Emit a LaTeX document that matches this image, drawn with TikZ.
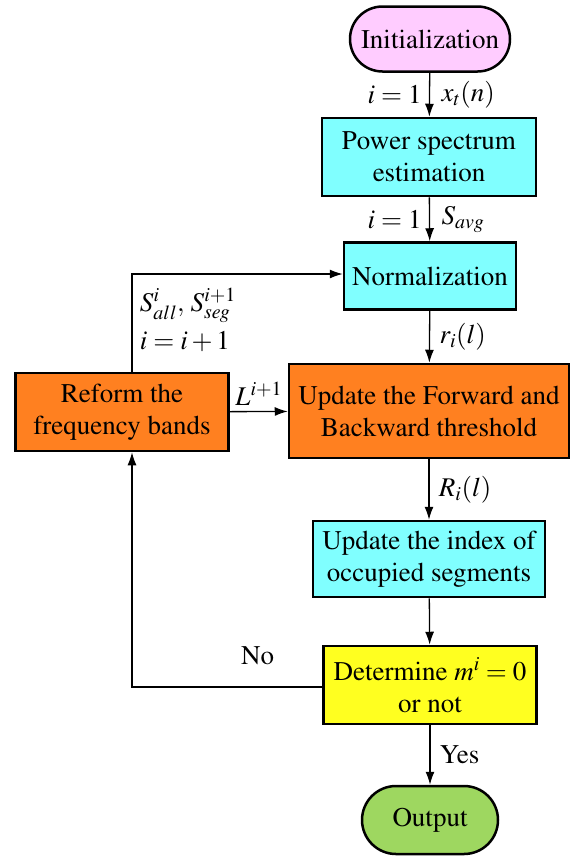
\documentclass[tikz,border=0pt]{standalone}
\usepackage[T1]{fontenc}
\usepackage{mathptmx}
\usetikzlibrary{arrows.meta,shapes.misc}

\definecolor{initpink}{RGB}{255,204,255}
\definecolor{stepcyan}{RGB}{128,255,255}
\definecolor{steporange}{RGB}{255,128,32}
\definecolor{checkyellow}{RGB}{255,255,32}
\definecolor{endgreen}{RGB}{158,215,96}

\begin{document}
\begin{tikzpicture}[x=1pt,y=-1pt,
font=\fontsize{27}{32}\selectfont,
termnode/.style={rounded rectangle, draw=black, line width=2.5pt, inner sep=0pt},
boxnode/.style={rectangle, draw=black, line width=2.5pt, align=center, inner sep=0pt},
flow/.style={-{Latex[length=13pt,width=9pt]}, line width=1.3pt},
]
\useasboundingbox (0,0) rectangle (575,857);

%Nodes
\node[termnode, fill=initpink, minimum width=160pt, minimum height=65pt]   (init)   at (430,39)  {Initialization};
\node[boxnode, fill=stepcyan, minimum width=214pt, minimum height=78pt]    (power)  at (429,157) {Power spectrum\\estimation};
\node[boxnode, fill=stepcyan, minimum width=172pt, minimum height=67pt]    (norm)   at (430,276) {Normalization};
\node[boxnode, fill=steporange, minimum width=280pt, minimum height=94pt]  (thresh) at (429,411) {Update the Forward and\\Backward threshold};
\node[boxnode, fill=steporange, minimum width=213pt, minimum height=78pt]  (reform) at (122,412) {Reform the\\frequency bands};
\node[boxnode, fill=stepcyan, minimum width=232pt, minimum height=76pt]    (index)  at (429,559) {Update the index of\\occupied segments};
\node[boxnode, fill=checkyellow, minimum width=213pt, minimum height=78pt]  (check)  at (430,685) {Determine $m^{i}=0$\\or not};
\node[termnode, fill=endgreen, minimum width=136pt, minimum height=68pt]   (output) at (430,820) {Output};

%Lines
\draw[flow] (init) -- node[left=4pt]{$i=1$} node[right=8pt]{$x_t(n)$} (power);
\draw[flow] (power) -- node[left=4pt]{$i=1$} node[right=8pt]{$S_{avg}$} (norm);
\draw[flow] (norm) -- node[right=6pt]{$r_i(l)$} (thresh);
\draw[flow] (thresh) -- node[right=6pt]{$R_i(l)$} (index);
\draw[flow] (index) -- (check);
\draw[flow] (check) -- node[right=6pt]{Yes} (output);
\draw[flow] (reform) -- node[above=2pt]{$L^{i+1}$} (thresh);
\draw[flow] (reform.north -| 132,0) -- node[right=4pt, align=left, yshift=3pt]{$S_{all}^{i},\,S_{seg}^{i+1}$\\[6pt]$i=i+1$} (132,274) -- (norm.west |- 0,274);
\draw[flow] (check.west |- 0,687) -- node[above=18pt, pos=0.34]{No} (132,687) -- (reform.south -| 132,0);
\end{tikzpicture}
\end{document}
